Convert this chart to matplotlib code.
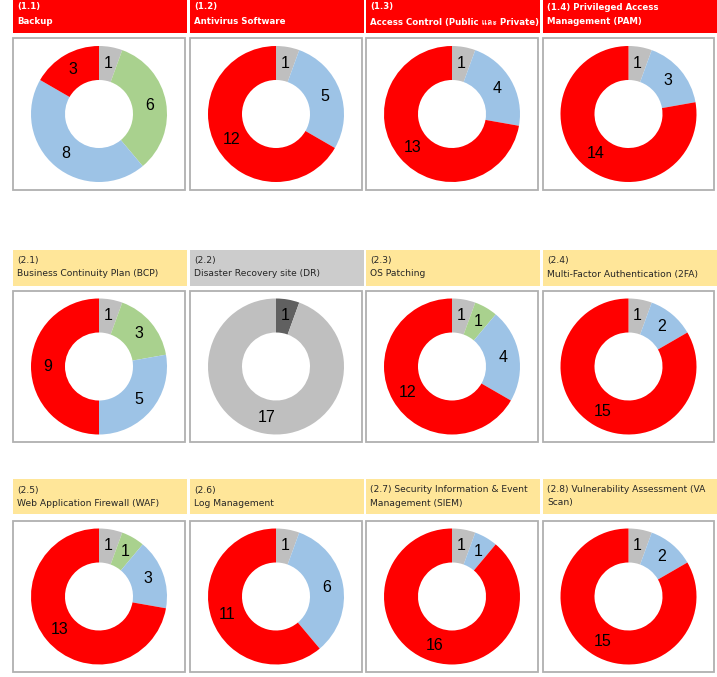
import matplotlib
matplotlib.use('Agg')
import numpy as np
import matplotlib.pyplot as plt
from matplotlib import font_manager
from matplotlib.ft2font import FT2Font
from matplotlib.patches import Rectangle

# Panel titles (two lines each)
titles = [
	('(1.1)', 'Backup'),
	('(1.2)', 'Antivirus Software'),
	('(1.3)', 'Access Control (Public และ Private)'),
	('(1.4) Privileged Access', 'Management (PAM)'),
	('(2.1)', 'Business Continuity Plan (BCP)'),
	('(2.2)', 'Disaster Recovery site (DR)'),
	('(2.3)', 'OS Patching'),
	('(2.4)', 'Multi-Factor Authentication (2FA)'),
	('(2.5)', 'Web Application Firewall (WAF)'),
	('(2.6)', 'Log Management'),
	('(2.7) Security Information & Event', 'Management (SIEM)'),
	('(2.8) Vulnerability Assessment (VA', 'Scan)'),
]

# values per panel: gray, green, blue, red (clockwise from top)
gray_vals = [1, 1, 1, 1, 1, 1, 1, 1, 1, 1, 1, 1]
green_vals = [6, 0, 0, 0, 3, 0, 1, 0, 1, 0, 0, 0]
blue_vals = [8, 5, 4, 3, 5, 0, 4, 2, 3, 6, 1, 2]
red_vals = [3, 12, 13, 14, 9, 0, 12, 15, 13, 11, 16, 15]
# Disaster Recovery panel: done / not done
dr_vals = [1, 17]

header_kind = ['red'] * 4 + ['yellow', 'gray'] + ['yellow'] * 6

# colours
C_GRAY = '#bfbfbf'
C_GREEN = '#a9d18e'
C_BLUE = '#9dc3e6'
C_RED = '#ff0000'
C_DARK = '#606060'
HEAD = {'red': '#ff0000', 'yellow': '#ffe699', 'gray': '#cccccc'}


# find a font that has Thai glyphs for "และ"
def find_thai():
	for f in font_manager.fontManager.ttflist:
		try:
			if 0x0E41 in FT2Font(f.fname).get_charmap():
				return f.name
		except Exception:
			pass
	return None

thai = find_thai()
fam = ['DejaVu Sans'] + ([thai] if thai else [])

names = {f.name for f in font_manager.fontManager.ttflist}
num_font = 'Liberation Sans Narrow' if 'Liberation Sans Narrow' in names else 'Liberation Sans'

W, H = 717, 677
fig = plt.figure(figsize=(W / 100, H / 100), dpi=100)

col_x = [13, 190, 366, 543]
head_w = [174, 174, 174, 175]
box_w = [172, 172, 172, 171]
head_y = [(0, 33), (250, 286), (479, 514)]
line_y = [(7, 22), (261, 274), (490, 503)]
box_y = [(38, 190), (291, 442), (521, 672)]
R = 68  # donut outer radius in px


def fx(x):
	return x / W


def fy(y):
	return 1 - y / H


for i, (t1, t2) in enumerate(titles):
	r, c = divmod(i, 4)
	x0 = col_x[c]
	kind = header_kind[i]
	# header
	y0, y1 = head_y[r]
	fig.patches.append(Rectangle((fx(x0), fy(y1)), head_w[c] / W, (y1 - y0) / H,
		transform=fig.transFigure, facecolor=HEAD[kind], edgecolor='none', zorder=-2))
	if kind == 'red':
		tcol, tw, fs = 'white', 'bold', 6.2
	else:
		tcol, tw, fs = '#262626', 'normal', 6.6
	for txt, ly in zip((t1, t2), line_y[r]):
		fig.text(fx(x0 + 4), fy(ly), txt, color=tcol, fontsize=fs, fontweight=tw,
			family=fam, ha='left', va='center')
	# box
	b0, b1 = box_y[r]
	fig.patches.append(Rectangle((fx(x0), fy(b1)), box_w[c] / W, (b1 - b0) / H,
		transform=fig.transFigure, facecolor='white', edgecolor='#b0b0b0',
		linewidth=1.3, zorder=-2))

	# donut
	cx = x0 + box_w[c] / 2
	cy = (b0 + b1) / 2
	ax = fig.add_axes([fx(cx - R), fy(cy + R), 2 * R / W, 2 * R / H])
	if kind == 'gray':
		vals = dr_vals
		cols = [C_DARK, C_GRAY]
	else:
		vals = [gray_vals[i], green_vals[i], blue_vals[i], red_vals[i]]
		cols = [C_GRAY, C_GREEN, C_BLUE, C_RED]
		keep = [k for k, v in enumerate(vals) if v > 0]
		vals = [vals[k] for k in keep]
		cols = [cols[k] for k in keep]
	wedges, _ = ax.pie(vals, colors=cols, startangle=90, counterclock=False,
		radius=1, wedgeprops=dict(width=0.5, edgecolor='none'))
	for w, v in zip(wedges, vals):
		ang = np.deg2rad((w.theta1 + w.theta2) / 2)
		ax.text(0.76 * np.cos(ang), 0.76 * np.sin(ang), str(v), ha='center', va='center',
			fontsize=11.5, family=num_font, color='black')
	ax.set_xlim(-1, 1)
	ax.set_ylim(-1, 1)
	ax.set_aspect('equal')
	ax.axis('off')

fig.savefig('out.png', dpi=100)
